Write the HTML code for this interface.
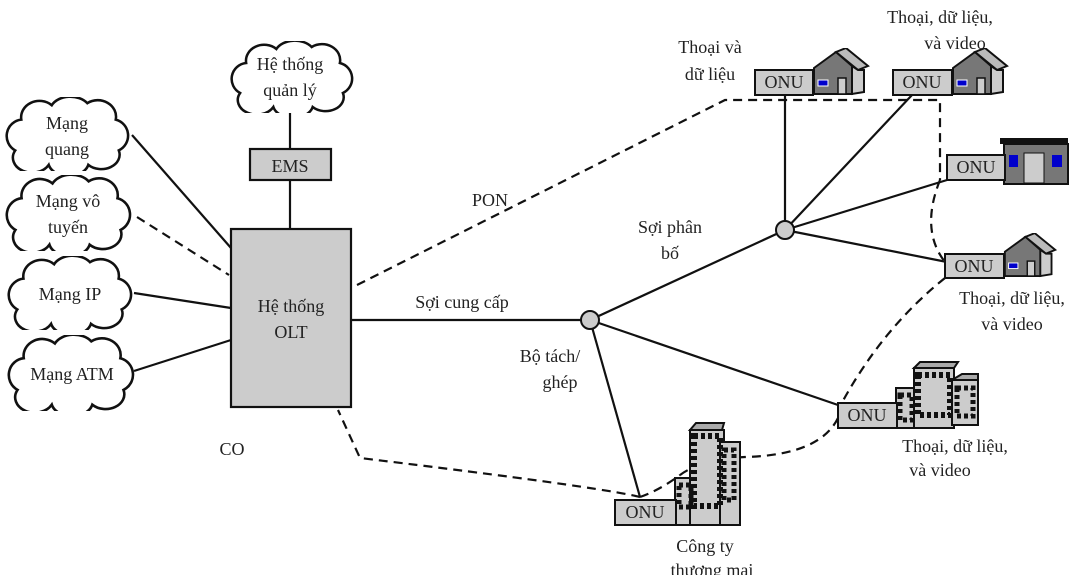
<!DOCTYPE html>
<html><head><meta charset="utf-8"><style>
html,body{margin:0;padding:0;background:#fff;}
svg{display:block;}
text{font-family:"Liberation Serif",serif;font-size:18px;fill:#222;}
</style></head><body>
<svg width="1080" height="575" viewBox="0 0 1080 575" xmlns="http://www.w3.org/2000/svg">
<defs>
<symbol id="cloud" viewBox="0 0 130 72" preserveAspectRatio="none">
<path d="M20,22 A18,16 0 0 1 50,8 A20,14 0 0 1 85,6 A18,16 0 0 1 113,22 A16,16 0 0 1 116,52 A18,14 0 0 1 86,66 A20,14 0 0 1 47,66 A18,14 0 0 1 14,52 A16,16 0 0 1 20,22 Z" fill="#fff" stroke="#111" stroke-width="2.5"/>
</symbol>
<symbol id="house" viewBox="0 0 60 48">
<polygon points="2,20 24,4 40,18 40,46 2,46" fill="#777" stroke="#111" stroke-width="2"/>
<polygon points="24,4 34,0 56,18 46,22" fill="#bbb" stroke="#111" stroke-width="2"/>
<polygon points="40,18 46,22 52,22 52,44 40,46" fill="#ccc" stroke="#111" stroke-width="2"/>
<rect x="6" y="32" width="10" height="6" fill="#00c" stroke="#fff" stroke-width="1"/>
<rect x="26" y="30" width="8" height="16" fill="#ccc" stroke="#111" stroke-width="1.5"/>
</symbol>
</defs>

<!-- connectors -->
<g stroke="#111" stroke-width="2.2" fill="none">
<line x1="290" y1="110" x2="290" y2="149"/>
<line x1="290" y1="180" x2="290" y2="229"/>
<line x1="132" y1="135" x2="231" y2="248"/>
<line x1="134" y1="293" x2="231" y2="308"/>
<line x1="134" y1="371" x2="231" y2="340"/>
<line x1="351" y1="320" x2="590" y2="320"/>
<line x1="590" y1="320" x2="785" y2="230"/>
<line x1="590" y1="320" x2="838" y2="405"/>
<line x1="590" y1="320" x2="640" y2="497"/>
<line x1="785" y1="230" x2="785" y2="95"/>
<line x1="785" y1="230" x2="912" y2="95"/>
<line x1="785" y1="230" x2="947" y2="180"/>
<line x1="785" y1="230" x2="947" y2="262"/>
</g>
<g stroke="#111" stroke-width="2.2" fill="none" stroke-dasharray="9,6">
<line x1="137" y1="217" x2="229" y2="275"/>
<polyline points="357,285 725,100 940,100 940,180"/>
<path d="M940,180 Q920,230 945,262"/>
<path d="M945,278 Q880,330 838,410"/>
<path d="M838,418 Q820,455 745,457 Q700,460 680,475"/>
<path d="M640,497 Q600,487 360,458 L338,410"/>
<path d="M640,497 Q660,490 680,475"/>
</g>

<!-- clouds -->
<use href="#cloud" x="226" y="41" width="131" height="72"/>
<use href="#cloud" x="1" y="97" width="132" height="74"/>
<use href="#cloud" x="1" y="175" width="134" height="76"/>
<use href="#cloud" x="3" y="256" width="133" height="74"/>
<use href="#cloud" x="3" y="335" width="135" height="76"/>

<!-- boxes -->
<rect x="250" y="149" width="81" height="31" fill="#ccc" stroke="#111" stroke-width="2.2"/>
<rect x="231" y="229" width="120" height="178" fill="#ccc" stroke="#111" stroke-width="2.2"/>
<circle cx="590" cy="320" r="9" fill="#ccc" stroke="#111" stroke-width="2"/>
<circle cx="785" cy="230" r="9" fill="#ccc" stroke="#111" stroke-width="2"/>

<!-- houses + ONUs -->
<use href="#house" x="812" y="48" width="60" height="48"/>
<rect x="755" y="70" width="58" height="25" fill="#ccc" stroke="#111" stroke-width="2"/>
<use href="#house" x="951" y="48" width="60" height="48"/>
<rect x="893" y="70" width="59" height="25" fill="#ccc" stroke="#111" stroke-width="2"/>
<use href="#house" x="1003" y="233" width="56" height="45"/>
<rect x="945" y="254" width="59" height="24" fill="#ccc" stroke="#111" stroke-width="2"/>
<!-- flat building -->
<rect x="1000" y="138" width="68" height="6" fill="#111"/>
<rect x="1004" y="144" width="64" height="40" fill="#777" stroke="#111" stroke-width="2"/>
<rect x="1009" y="155" width="9" height="12" fill="#00c"/>
<rect x="1052" y="155" width="10" height="12" fill="#00c"/>
<rect x="1024" y="153" width="20" height="30" fill="#ccc" stroke="#111" stroke-width="1"/>
<rect x="947" y="155" width="58" height="25" fill="#ccc" stroke="#111" stroke-width="2"/>
<!-- building group 1 -->
<g stroke="#111" stroke-width="2">
<rect x="896" y="388" width="20" height="40" fill="#ccc"/>
<rect x="914" y="368" width="40" height="60" fill="#ccc"/>
<rect x="952" y="380" width="26" height="45" fill="#ccc"/>
<polygon points="914,368 920,362 958,362 954,368" fill="#aaa"/>
<polygon points="952,380 962,374 978,374 978,380" fill="#aaa"/>
</g>
<g fill="#111">
<rect x="918" y="375" width="32" height="40" fill="none" stroke="#111" stroke-width="6" stroke-dasharray="4,3"/>
<rect x="900" y="395" width="12" height="25" fill="none" stroke="#111" stroke-width="5" stroke-dasharray="4,3"/>
<rect x="957" y="388" width="16" height="28" fill="none" stroke="#111" stroke-width="5" stroke-dasharray="4,3"/>
</g>
<rect x="838" y="403" width="59" height="25" fill="#ccc" stroke="#111" stroke-width="2"/>
<!-- building group 2 -->
<g stroke="#111" stroke-width="2">
<rect x="675" y="478" width="20" height="47" fill="#ccc"/>
<rect x="690" y="430" width="34" height="95" fill="#ccc"/>
<rect x="720" y="442" width="20" height="83" fill="#ccc"/>
<polygon points="690,430 696,423 724,423 722,430" fill="#aaa"/>
</g>
<rect x="694" y="436" width="26" height="70" fill="none" stroke="#111" stroke-width="6" stroke-dasharray="4,3"/>
<rect x="724" y="450" width="10" height="50" fill="none" stroke="#111" stroke-width="5" stroke-dasharray="4,3"/>
<rect x="679" y="485" width="12" height="22" fill="none" stroke="#111" stroke-width="5" stroke-dasharray="4,3"/>
<rect x="615" y="500" width="61" height="25" fill="#ccc" stroke="#111" stroke-width="2"/>

<!-- texts -->
<g text-anchor="middle">
<text x="290" y="70">Hệ thống</text><text x="290" y="96">quản lý</text>
<text x="67" y="129">Mạng</text><text x="67" y="155">quang</text>
<text x="68" y="207">Mạng vô</text><text x="68" y="233">tuyến</text>
<text x="70" y="300">Mạng IP</text>
<text x="72" y="380">Mạng ATM</text>
<text x="290" y="172">EMS</text>
<text x="291" y="312">Hệ thống</text><text x="291" y="338">OLT</text>
<text x="232" y="455">CO</text>
<text x="490" y="206">PON</text>
<text x="670" y="233">Sợi phân</text><text x="670" y="259">bố</text>
<text x="462" y="308">Sợi cung cấp</text>
<text x="550" y="362">Bộ tách/</text><text x="560" y="388">ghép</text>
<text x="710" y="53">Thoại và</text><text x="710" y="80">dữ liệu</text>
<text x="940" y="23">Thoại, dữ liệu,</text><text x="955" y="49">và video</text>
<text x="1012" y="304">Thoại, dữ liệu,</text><text x="1012" y="330">và video</text>
<text x="955" y="452">Thoại, dữ liệu,</text><text x="940" y="476">và video</text>
<text x="705" y="552">Công ty</text><text x="712" y="576">thương mại</text>
</g>
<g text-anchor="middle" style="font-size:15px">
<text x="784" y="88">ONU</text><text x="922" y="88">ONU</text>
<text x="976" y="173">ONU</text><text x="974" y="272">ONU</text>
<text x="867" y="421">ONU</text><text x="645" y="518">ONU</text>
</g>
</svg>
</body></html>
